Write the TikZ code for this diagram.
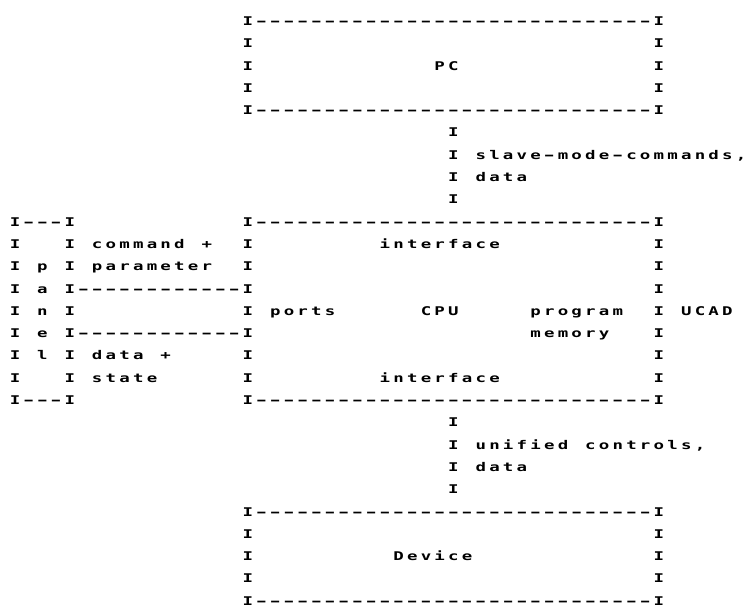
\documentclass[tikz,border=0pt]{standalone}
\usepackage{fontspec}
\usepackage{graphicx}
\newfontfamily\gridfont[FakeStretch=1.45]{DejaVu Sans Mono}

% character grid: column pitch 13.7, row pitch 22.3 (1 unit = 1pt)
\newcommand\colx[1]{15+13.7*#1}
\newcommand\rowy[1]{25.4+22.3*#1}

\tikzset{
  ch/.style={font=\gridfont\bfseries\fontsize{12}{12}\selectfont,
             inner sep=0pt, anchor=base, text=black},
}

\makeatletter
\def\grid@dash{-}
% place a string (no spaces) one character per grid cell
\newcommand\gridtext[3]{%
  \def\grid@col{#1}%
  \@tfor\grid@ch:=#3\do{%
    \ifx\grid@ch\grid@dash
      \node[ch] (g-#2-\grid@col) at ({\colx{\grid@col}},{\rowy{#2}}) {\scalebox{1.5}[1]{-}};%
    \else
      \node[ch] (g-#2-\grid@col) at ({\colx{\grid@col}},{\rowy{#2}}) {\grid@ch};%
    \fi
    \pgfmathtruncatemacro\grid@col{\grid@col+1}%
  }}
% horizontal edge: I at both ends, dashes between
\newcommand\hedge[3]{% row, first col, last col
  \node[ch] (g-#1-#2) at ({\colx{#2}},{\rowy{#1}}) {I};
  \node[ch] (g-#1-#3) at ({\colx{#3}},{\rowy{#1}}) {I};
  \pgfmathtruncatemacro\grid@a{#2+1}%
  \pgfmathtruncatemacro\grid@b{#3-1}%
  \foreach \c in {\grid@a,...,\grid@b}{
    \node[ch] (g-#1-\c) at ({\colx{\c}},{\rowy{#1}}) {\scalebox{1.5}[1]{-}};
  }}
% vertical edge: a column of I
\newcommand\vedge[3]{% col, first row, last row
  \foreach \r in {#2,...,#3}{
    \node[ch] (g-\r-#1) at ({\colx{#1}},{\rowy{\r}}) {I};
  }}
% a run of dashes
\newcommand\hdash[3]{% row, first col, last col
  \foreach \c in {#2,...,#3}{
    \node[ch] (g-#1-\c) at ({\colx{\c}},{\rowy{#1}}) {\scalebox{1.5}[1]{-}};
  }}
\makeatother

\begin{document}
\begin{tikzpicture}[x=1pt,y=-1pt]
\fill[white] (0,0) rectangle (748,608);
\useasboundingbox (0,0) rectangle (748,608);

% PC
\hedge{0}{17}{47}
\vedge{17}{1}{3}
\vedge{47}{1}{3}
\gridtext{31}{2}{PC}
\hedge{4}{17}{47}

% PC <-> UCAD link
\vedge{32}{5}{8}
\gridtext{34}{6}{slave-mode-commands,}
\gridtext{34}{7}{data}

% panel
\hedge{9}{0}{4}
\vedge{0}{10}{16}
\vedge{4}{10}{16}
\gridtext{2}{11}{p}
\gridtext{2}{12}{a}
\gridtext{2}{13}{n}
\gridtext{2}{14}{e}
\gridtext{2}{15}{l}
\hedge{17}{0}{4}

% panel <-> UCAD links
\gridtext{6}{10}{command}
\gridtext{14}{10}{+}
\gridtext{6}{11}{parameter}
\hdash{12}{5}{16}
\hdash{14}{5}{16}
\gridtext{6}{15}{data}
\gridtext{11}{15}{+}
\gridtext{6}{16}{state}

% UCAD
\hedge{9}{17}{47}
\vedge{17}{10}{16}
\vedge{47}{10}{16}
\hedge{17}{17}{47}
\gridtext{27}{10}{interface}
\gridtext{19}{13}{ports}
\gridtext{30}{13}{CPU}
\gridtext{38}{13}{program}
\gridtext{38}{14}{memory}
\gridtext{49}{13}{UCAD}
\gridtext{27}{16}{interface}

% UCAD <-> Device link
\vedge{32}{18}{21}
\gridtext{34}{19}{unified}
\gridtext{42}{19}{controls,}
\gridtext{34}{20}{data}

% Device
\hedge{22}{17}{47}
\vedge{17}{23}{25}
\vedge{47}{23}{25}
\gridtext{28}{24}{Device}
\hedge{26}{17}{47}
\end{tikzpicture}
\end{document}
